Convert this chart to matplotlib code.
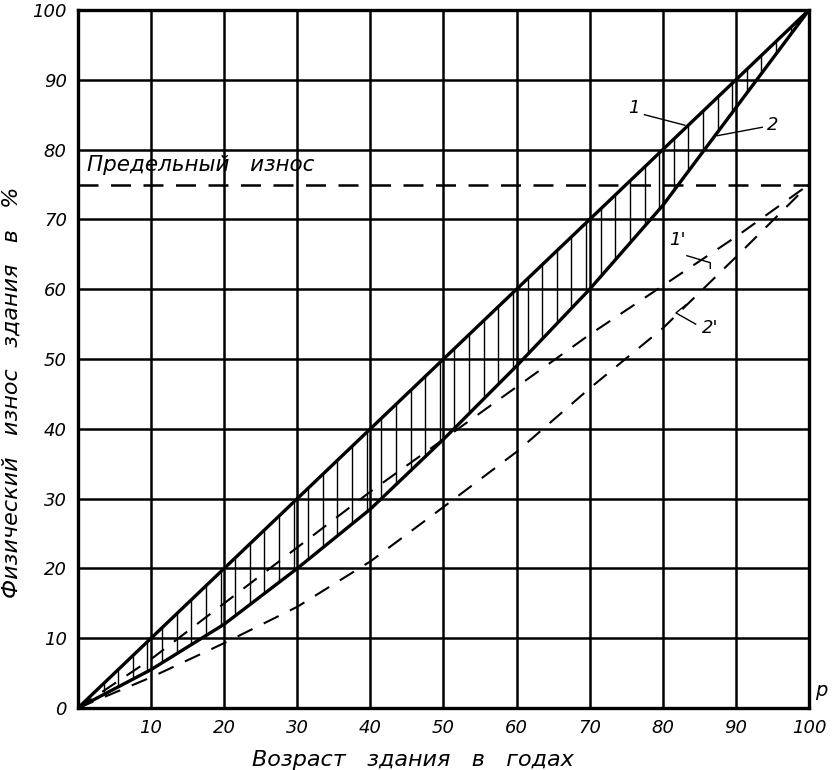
import numpy as np
import matplotlib
matplotlib.use("Agg")
import matplotlib.pyplot as plt

age = [0, 10, 20, 30, 40, 50, 60, 70, 80, 90, 100]
curve1 = [0, 10, 20, 30, 40, 50, 60, 70, 80, 90, 100]
curve2 = [0, 5.5, 12, 20, 28.5, 38.5, 49, 60, 72, 86, 100]
curve1p = [0, 7, 15, 23, 31, 38.5, 46, 53.5, 60.5, 67.5, 75]
curve2p = [0, 4.4, 9.3, 14.5, 21, 28.8, 36.7, 45.8, 54.4, 64.6, 75]
limit_wear = 75
ticks = [0, 10, 20, 30, 40, 50, 60, 70, 80, 90, 100]

fig = plt.figure(figsize=(8.34, 7.7), dpi=100)
ax = fig.add_axes([0.0935, 0.0805, 0.8765, 0.9065])
ax.set_xlim(0, 100)
ax.set_ylim(0, 100)

for t in ticks[1:-1]:
    ax.axvline(t, color='black', lw=1.8, zorder=1)
    ax.axhline(t, color='black', lw=1.8, zorder=1)
for s in ax.spines.values():
    s.set_linewidth(2.4)

ax.set_xticks(ticks)
ax.set_yticks(ticks)
ax.set_xticklabels([str(t) if t > 0 else '' for t in ticks])
ax.set_yticklabels([str(t) for t in ticks])
ax.tick_params(length=0, labelsize=13, pad=8)
for lab in ax.get_xticklabels() + ax.get_yticklabels():
    lab.set_fontstyle('italic')

# hatching between 1 and 2
hx = np.arange(1.5, 99, 2.0)
ax.vlines(hx, np.interp(hx, age, curve2), np.interp(hx, age, curve1),
          color='black', lw=1.0, zorder=2)

ax.plot(age, curve1, color='black', lw=2.4, zorder=3)
ax.plot(age, curve2, color='black', lw=2.4, zorder=3)
ax.plot(age, curve1p, color='black', lw=1.5, dashes=(8, 6), zorder=3)
ax.plot(age, curve2p, color='black', lw=1.5, dashes=(8, 6), zorder=3)
ax.axhline(limit_wear, color='black', lw=1.8, dashes=(8, 5), zorder=3)

ax.text(1.2, 77.8, 'Предельный   износ', fontsize=15.5, fontstyle='italic',
        va='center', ha='left')

# curve labels with leaders
ax.text(76, 86, '1', fontsize=13, fontstyle='italic', ha='center', va='center')
ax.plot([77.5, 83], [85, 83.5], color='black', lw=1.0)
ax.text(95, 83.5, '2', fontsize=13, fontstyle='italic', ha='center', va='center')
ax.plot([93.6, 87.5], [83.2, 82.0], color='black', lw=1.0)
ax.text(82, 67, "1'", fontsize=13, fontstyle='italic', ha='center', va='center')
ax.plot([83.3, 86.5, 86.5], [64.8, 63.8, 63.0], color='black', lw=1.0)
ax.text(86.5, 54.5, "2'", fontsize=13, fontstyle='italic', ha='center', va='center')
ax.plot([84.5, 81.8, 83.2], [55.0, 56.6, 57.8], color='black', lw=1.0)

ax.text(101.7, 1.2, 'p', fontsize=14, fontstyle='italic', ha='center', va='bottom',
        clip_on=False)

ax.set_xlabel('Возраст   здания   в   годах', fontsize=16, fontstyle='italic')
ax.xaxis.set_label_coords(0.458, -0.06)
ax.set_ylabel('Физический   износ   здания   в   %', fontsize=16, fontstyle='italic')
ax.yaxis.set_label_coords(-0.077, 0.453)

fig.savefig('out.png', dpi=100)
